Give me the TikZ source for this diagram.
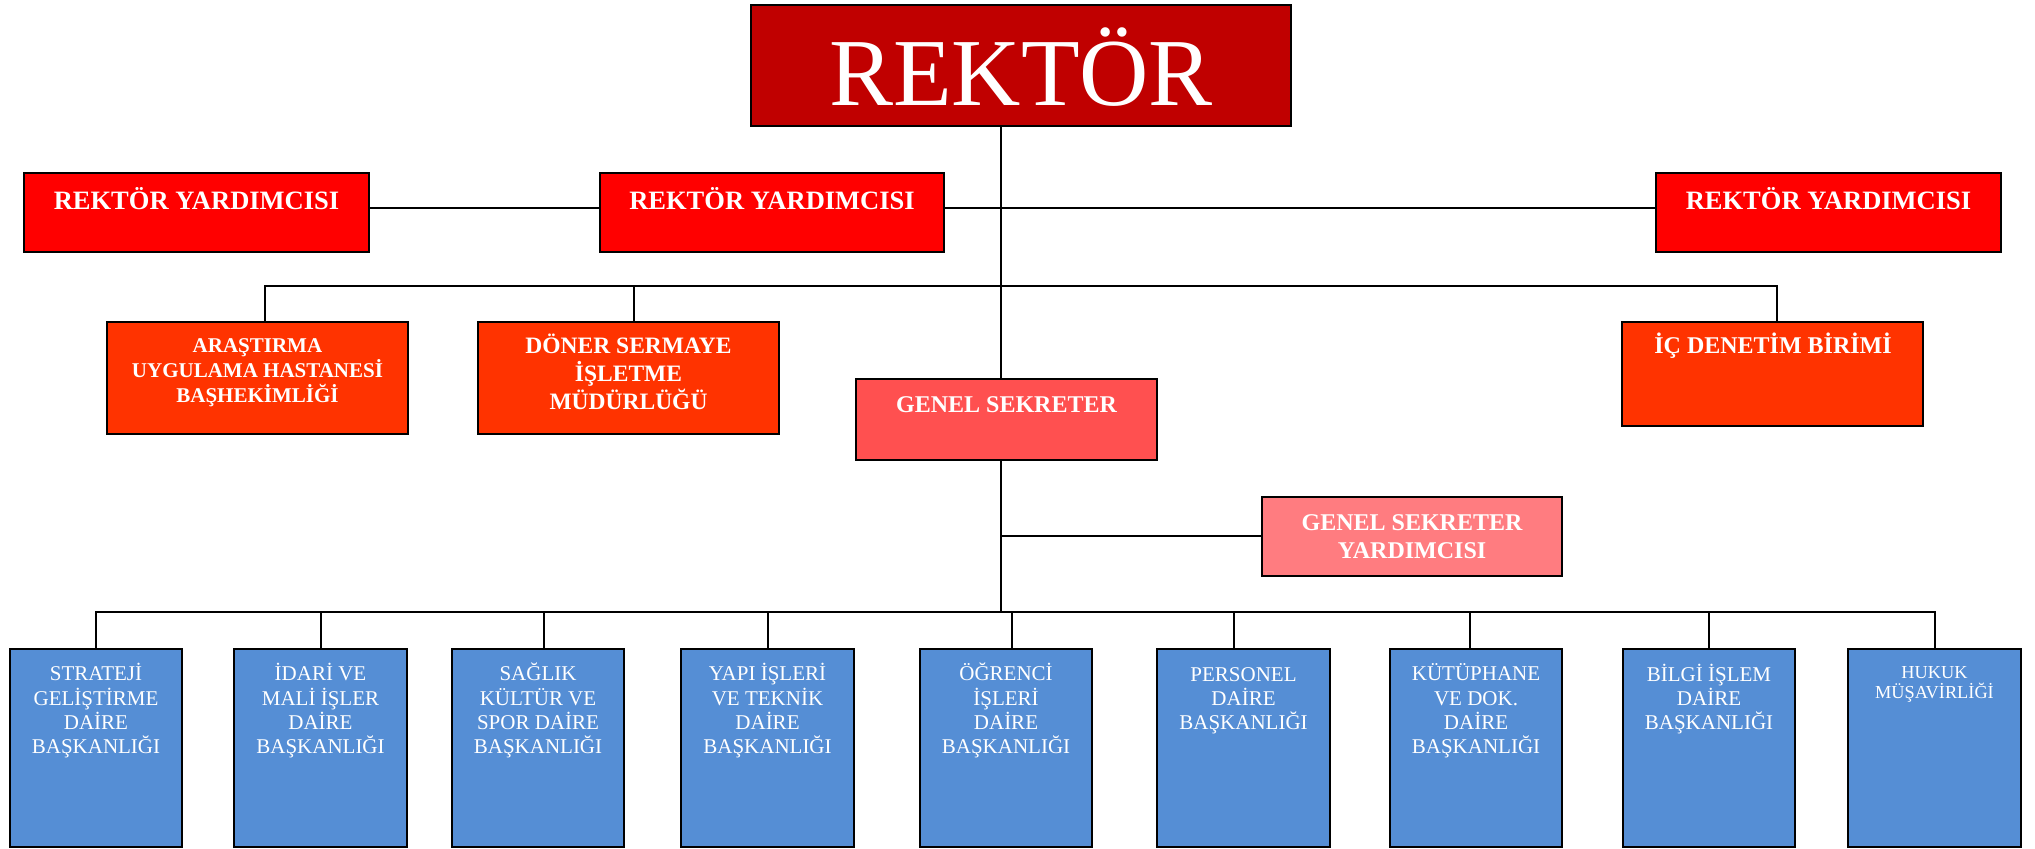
\documentclass[tikz,border=0pt]{standalone}
\usepackage{fontspec}
\setmainfont{Liberation Serif}
\usetikzlibrary{fit}
\newcommand{\myst}{\rule{0pt}{1em}}
\definecolor{rekc}{RGB}{192,0,0}
\definecolor{ryc}{RGB}{255,0,0}
\definecolor{orc}{RGB}{255,51,0}
\definecolor{gsc}{RGB}{255,80,80}
\definecolor{gsyc}{RGB}{255,124,128}
\definecolor{bluc}{RGB}{85,142,213}
\tikzset{
  box/.style={draw=black, line width=1pt, inner sep=0pt, outer sep=0pt},
  conn/.style={draw=black, line width=1pt},
  txt/.style={text=white, inner sep=0pt, outer sep=0pt, align=center},
  topfont/.style={font=\bfseries\fontsize{13.25pt}{15pt}\selectfont},
  midfont/.style={font=\bfseries\fontsize{12pt}{14pt}\selectfont},
  lowfont/.style={font=\fontsize{10.5pt}{12pt}\selectfont}
}
\begin{document}
\begin{tikzpicture}[x=0.5pt,y=-0.5pt]
\useasboundingbox (0,0) rectangle (2035,849);
% boxes
\node[box, fill=rekc, fit={(751,5) (1291,126)}] (rek) {};
\node[box, fill=ryc, fit={(24,173) (369,252)}] (ry1) {};
\node[box, fill=ryc, fit={(600,173) (944,252)}] (ry2) {};
\node[box, fill=ryc, fit={(1656,173) (2001,252)}] (ry3) {};
\node[box, fill=orc, fit={(107,322) (408,434)}] (ara) {};
\node[box, fill=orc, fit={(478,322) (779,434)}] (don) {};
\node[box, fill=orc, fit={(1622,322) (1923,426)}] (ic) {};
\node[box, fill=gsc, fit={(856,379) (1157,460)}] (gs) {};
\node[box, fill=gsyc, fit={(1262,497) (1562,576)}] (gsy) {};
\node[box, fill=bluc, fit={(10,649) (182,847)}] (b1) {};
\node[box, fill=bluc, fit={(234,649) (407,847)}] (b2) {};
\node[box, fill=bluc, fit={(452,649) (624,847)}] (b3) {};
\node[box, fill=bluc, fit={(681,649) (854,847)}] (b4) {};
\node[box, fill=bluc, fit={(920,649) (1092,847)}] (b5) {};
\node[box, fill=bluc, fit={(1157,649) (1330,847)}] (b6) {};
\node[box, fill=bluc, fit={(1390,649) (1562,847)}] (b7) {};
\node[box, fill=bluc, fit={(1623,649) (1795,847)}] (b8) {};
\node[box, fill=bluc, fit={(1848,649) (2021,847)}] (b9) {};
% helper coordinates
\coordinate (spine) at (1001,0);
\coordinate (ryl) at (0,208);
\coordinate (tb) at (1001,286);
\coordinate (bus) at (1001,612);
% connectors
\draw[conn] (rek.south -| spine) -- (gs.north -| spine);
\draw[conn] (ry1.east |- ryl) -- (ry2.west |- ryl);
\draw[conn] (ry2.east |- ryl) -- (ry3.west |- ryl);
\draw[conn] ([xshift=3.75pt]ara.north) |- (tb) -| ([xshift=2.25pt]ic.north);
\draw[conn] ([xshift=2.75pt]don.north) -- ([xshift=2.75pt]don.north |- tb);
\draw[conn] (gs.south -| spine) -- (bus);
\draw[conn] (spine |- gsy.west) -- (gsy.west);
\draw[conn] (b1.north) |- (bus) -| (b9.north);
\foreach \b/\s in {b2/0pt,b3/3pt,b4/0pt,b5/3pt,b6/-4.75pt,b7/-3pt,b8/0pt} {
  \draw[conn] ([xshift=\s]\b.north) -- ([xshift=\s]\b.north |- bus);
}
% texts
\node[txt, font=\fontsize{48pt}{48pt}\selectfont, anchor=base] (rekt) at (1021,106) {REKTÖR};
\node[txt, topfont, anchor=base] (ry1t) at (196.5,210) {REKTÖR YARDIMCISI};
\node[txt, topfont, anchor=base] (ry2t) at (772,210) {REKTÖR YARDIMCISI};
\node[txt, topfont, anchor=base] (ry3t) at (1828.5,210) {REKTÖR YARDIMCISI};
\node[txt, font=\bfseries\fontsize{10.5pt}{12.5pt}\selectfont, anchor=north] (arat) at (257.5,332) {\myst ARAŞTIRMA\\UYGULAMA HASTANESİ\\BAŞHEKİMLİĞİ};
\node[txt, font=\bfseries\fontsize{11.75pt}{14pt}\selectfont, anchor=north] (dont) at (628.5,330.5) {\myst DÖNER SERMAYE\\İŞLETME\\MÜDÜRLÜĞÜ};
\node[txt, midfont, anchor=base] (ict) at (1773,354) {İÇ DENETİM BİRİMİ};
\node[txt, midfont, anchor=base] (gst) at (1006.5,413) {GENEL SEKRETER};
\node[txt, midfont, anchor=north] (gsyt) at (1412,507) {\myst GENEL SEKRETER\\YARDIMCISI};
\node[txt, lowfont, anchor=north] (b1t) at (96,660) {\myst STRATEJİ\\GELİŞTİRME\\DAİRE\\BAŞKANLIĞI};
\node[txt, lowfont, anchor=north] (b2t) at (320.5,660) {\myst İDARİ VE\\MALİ İŞLER\\DAİRE\\BAŞKANLIĞI};
\node[txt, lowfont, anchor=north] (b3t) at (538,660) {\myst SAĞLIK\\KÜLTÜR VE\\SPOR DAİRE\\BAŞKANLIĞI};
\node[txt, lowfont, anchor=north] (b4t) at (767.5,660) {\myst YAPI İŞLERİ\\VE TEKNİK\\DAİRE\\BAŞKANLIĞI};
\node[txt, lowfont, anchor=north] (b5t) at (1006,660) {\myst ÖĞRENCİ\\İŞLERİ\\DAİRE\\BAŞKANLIĞI};
\node[txt, lowfont, anchor=north] (b6t) at (1243.5,660) {\myst PERSONEL\\DAİRE\\BAŞKANLIĞI};
\node[txt, lowfont, anchor=north] (b7t) at (1476,660) {\myst KÜTÜPHANE\\VE DOK.\\DAİRE\\BAŞKANLIĞI};
\node[txt, lowfont, anchor=north] (b8t) at (1709,660) {\myst BİLGİ İŞLEM\\DAİRE\\BAŞKANLIĞI};
\node[txt, font=\fontsize{9.15pt}{10pt}\selectfont, anchor=north] (b9t) at (1934.5,659.7) {\myst HUKUK\\MÜŞAVİRLİĞİ};
\end{tikzpicture}
\end{document}
